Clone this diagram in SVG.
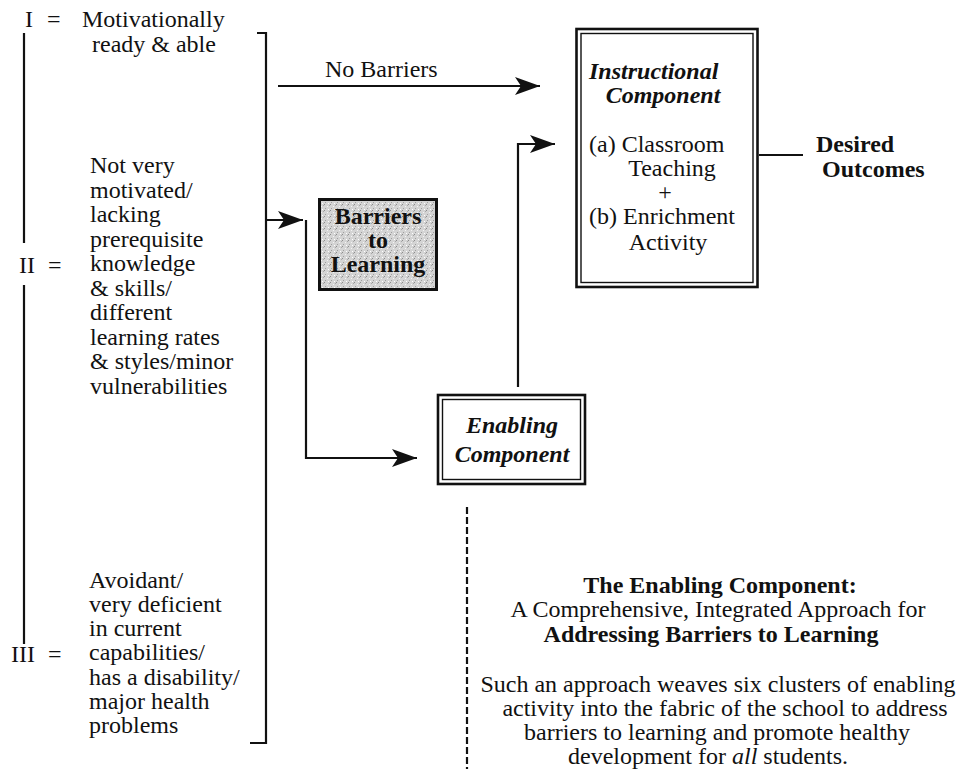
<svg xmlns="http://www.w3.org/2000/svg" width="959" height="769" viewBox="0 0 959 769">
  <style>
    text { font-family: "Liberation Serif", "Times New Roman", serif; font-size: 24px; fill: #111; }
    .b { font-weight: bold; }
    .bi { font-weight: bold; font-style: italic; }
    .c { text-anchor: middle; }
    .ln { fill: none; stroke: #111; stroke-width: 2.2; }
    .outer { fill: #fff; stroke: #111; stroke-width: 2.6; }
    .inner { fill: none; stroke: #111; stroke-width: 1.4; }
  </style>
  <defs>
    <marker id="arrow" markerUnits="userSpaceOnUse" markerWidth="26" markerHeight="20" refX="25" refY="9" orient="auto">
      <path d="M0,0 L25,9 L0,18 L6,9 Z" fill="#111"/>
    </marker>
    <pattern id="stipple" width="6" height="6" patternUnits="userSpaceOnUse">
      <rect width="6" height="6" fill="#d4d4d4"/>
      <rect x="0" y="0" width="1" height="1" fill="#8c8c8c"/>
      <rect x="3" y="2" width="1" height="1" fill="#f4f4f4"/>
      <rect x="1" y="4" width="1" height="1" fill="#9e9e9e"/>
      <rect x="4" y="5" width="1" height="1" fill="#ffffff"/>
      <rect x="5" y="1" width="1" height="1" fill="#a8a8a8"/>
    </pattern>
  </defs>

  <!-- student groups I, II, III -->
  <g id="group-I">
    <text x="25" y="27">I</text>
    <text x="47" y="27">=</text>
    <text x="82" y="27">Motivationally</text>
    <text x="92" y="52">ready &amp; able</text>
  </g>

  <g id="group-II">
    <text x="19" y="273">II</text>
    <text x="48" y="273">=</text>
    <text x="90" y="173">Not very</text>
    <text x="90" y="197.5">motivated/</text>
    <text x="90" y="222">lacking</text>
    <text x="90" y="246.5">prerequisite</text>
    <text x="90" y="271">knowledge</text>
    <text x="90" y="295.5">&amp; skills/</text>
    <text x="90" y="320">different</text>
    <text x="90" y="344.5">learning rates</text>
    <text x="90" y="369">&amp; styles/minor</text>
    <text x="90" y="393.5">vulnerabilities</text>
  </g>

  <g id="group-III">
    <text x="11" y="662">III</text>
    <text x="48" y="662">=</text>
    <text x="89" y="588">Avoidant/</text>
    <text x="89" y="612">very deficient</text>
    <text x="89" y="636">in current</text>
    <text x="89" y="660">capabilities/</text>
    <text x="89" y="684.5">has a disability/</text>
    <text x="89" y="709">major health</text>
    <text x="89" y="733">problems</text>
  </g>

  <!-- continuum line and bracket -->
  <g id="continuum">
    <path class="ln" d="M24,33 V243 M24,285 V644"/>
    <path class="ln" d="M257,33 H266 V743 H250"/>
  </g>

  <g id="barriers">
    <rect x="319.5" y="199.5" width="117" height="90" fill="url(#stipple)" stroke="#111" stroke-width="3"/>
    <text class="b c" x="378" y="224">Barriers</text>
    <text class="b c" x="378" y="248">to</text>
    <text class="b c" x="378" y="272">Learning</text>
  </g>

  <g id="enabling">
    <rect class="outer" x="438" y="395" width="147" height="89"/>
    <rect class="inner" x="442.5" y="399.5" width="138" height="80"/>
    <text class="bi c" x="512" y="433">Enabling</text>
    <text class="bi c" x="512" y="462">Component</text>
  </g>

  <g id="instructional">
    <rect class="outer" x="576.5" y="29" width="181" height="258"/>
    <rect class="inner" x="581" y="33.5" width="172" height="249"/>
    <text class="bi" x="589" y="79">Instructional</text>
    <text class="bi c" x="663" y="103">Component</text>
    <text x="589" y="152">(a) Classroom</text>
    <text class="c" x="672" y="176">Teaching</text>
    <text class="c" x="665" y="200">+</text>
    <text x="589" y="224">(b) Enrichment</text>
    <text class="c" x="668" y="250">Activity</text>
  </g>

  <g id="outcomes">
    <text class="b" x="816" y="152">Desired</text>
    <text class="b" x="822" y="177">Outcomes</text>
  </g>

  <g id="description">
    <text class="b c" x="720" y="593">The Enabling Component:</text>
    <text class="c" x="718" y="617">A Comprehensive, Integrated Approach for</text>
    <text class="b c" x="711" y="642">Addressing Barriers to Learning</text>
    <text class="c" x="718" y="692">Such an approach weaves six clusters of enabling</text>
    <text class="c" x="725" y="716">activity into the fabric of the school to address</text>
    <text class="c" x="717" y="740">barriers to learning and promote healthy</text>
    <text class="c" x="708" y="764">development for <tspan font-style="italic">all</tspan> students.</text>
  </g>

  <!-- connectors -->
  <g id="connectors">
    <path class="ln" d="M278,86 H540" marker-end="url(#arrow)"/>
    <path class="ln" d="M266,220 H303" marker-end="url(#arrow)"/>
    <path class="ln" d="M306,220 V458 H417" marker-end="url(#arrow)"/>
    <path class="ln" d="M518,387 V144 H555" marker-end="url(#arrow)"/>
    <path class="ln" d="M759,155 H803"/>
    <path class="ln" d="M467,507 V769" stroke-dasharray="7 3" stroke-width="1.8"/>
  </g>
  <text x="325" y="77">No Barriers</text>
</svg>
